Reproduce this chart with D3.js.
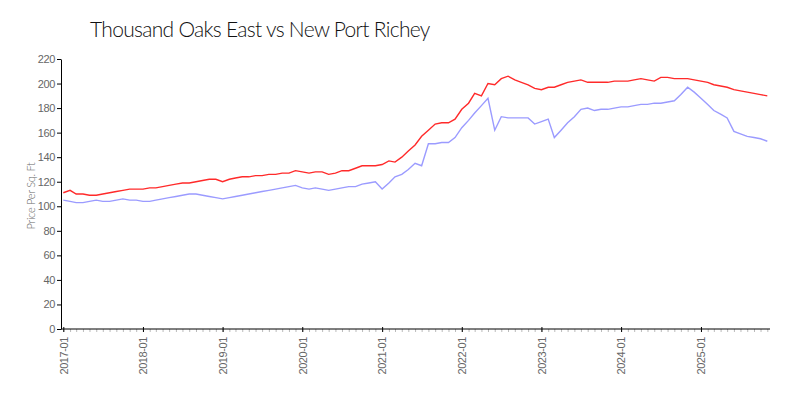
<!DOCTYPE html>
<meta charset="utf-8">
<style type="text/css">
    body { margin: 0; background: #fff; }
    svg { font-family: "Lato", "DejaVu Sans", sans-serif; }
    .title { font-size: 21px; font-weight: 300; fill: #111; letter-spacing: -0.7px; }
    .axis text { fill: #666; font-size: 11px; font-weight: 300; letter-spacing: -0.4px; }
    .axis path, .axis line { stroke: #000; }
    .minor line { stroke: #bbb; }
    .minor path { stroke: none; }
    .ylabel { font-size: 11px; fill: #666; font-weight: 300; letter-spacing: -0.3px; }
    .line { fill: none; stroke-width: 1.4; }
</style>
<body></body>
<script src="https://cdn.jsdelivr.net/npm/d3@7"></script>
<script>
    // monthly, 2017-01 .. 2025-11
    var startMonth = "2017-01", endMonth = "2025-11";
    var title = "Thousand Oaks East vs New Port Richey";
    var yLabel = "Price Per Sq. Ft";
    var yTicks = [0, 20, 40, 60, 80, 100, 120, 140, 160, 180, 200, 220];
    var tickYears = ["2017-01", "2018-01", "2019-01", "2020-01", "2021-01", "2022-01", "2023-01", "2024-01", "2025-01"];

    var thousandOaks = [
        111, 113, 110, 110, 109, 109, 110, 111, 112, 113, 114, 114,
        114, 115, 115, 116, 117, 118, 119, 119, 120, 121, 122, 122,
        120, 122, 123, 124, 124, 125, 125, 126, 126, 127, 127, 129,
        128, 127, 128, 128, 126, 127, 129, 129, 131, 133, 133, 133,
        134, 137, 136, 140, 145, 150, 157, 162, 167, 168, 168, 171,
        179, 184, 192, 190, 200, 199, 204, 206, 203, 201, 199, 196,
        195, 197, 197, 199, 201, 202, 203, 201, 201, 201, 201, 202,
        202, 202, 203, 204, 203, 202, 205, 205, 204, 204, 204, 203,
        202, 201, 199, 198, 197, 195, 194, 193, 192, 191, 190
    ];
    var newPortRichey = [
        105, 104, 103, 103, 104, 105, 104, 104, 105, 106, 105, 105,
        104, 104, 105, 106, 107, 108, 109, 110, 110, 109, 108, 107,
        106, 107, 108, 109, 110, 111, 112, 113, 114, 115, 116, 117,
        115, 114, 115, 114, 113, 114, 115, 116, 116, 118, 119, 120,
        114, 119, 124, 126, 130, 135, 133, 151, 151, 152, 152, 156,
        164, 170, 176, 182, 188, 162, 173, 172, 172, 172, 172, 167,
        169, 171, 156, 162, 168, 173, 179, 180, 178, 179, 179, 180,
        181, 181, 182, 183, 183, 184, 184, 185, 186, 191, 197, 193,
        188, 183, 178, 175, 172, 161, 159, 157, 156, 155, 153
    ];

    var parseMonth = d3.timeParse("%Y-%m");
    var months = d3.timeMonth.range(parseMonth(startMonth), d3.timeMonth.offset(parseMonth(endMonth), 1));

    var margin = {top: 59, right: 33, bottom: 71, left: 61},
        width = 800 - margin.left - margin.right,
        height = 400 - margin.top - margin.bottom;

    var x = d3.scaleTime()
        .domain([months[0], months[months.length - 1]])
        .range([2.3, 706.3]);

    var y = d3.scaleLinear()
        .domain([0, 220])
        .range([height, 0]);

    var svg = d3.select("body").append("svg")
        .attr("width", 800)
        .attr("height", 400);

    svg.append("text")
        .attr("class", "title")
        .attr("x", 90)
        .attr("y", 37)
        .text(title);

    var g = svg.append("g")
        .attr("transform", "translate(" + margin.left + "," + margin.top + ")");

    // minor month ticks
    g.append("g")
        .attr("class", "axis minor")
        .attr("transform", "translate(0," + height + ")")
        .call(d3.axisBottom(x).tickValues(months).tickSize(3).tickFormat(""));

    var xAxis = g.append("g")
        .attr("class", "axis")
        .attr("transform", "translate(0," + height + ")")
        .call(d3.axisBottom(x)
            .tickValues(tickYears.map(parseMonth))
            .tickSize(3)
            .tickSizeOuter(0)
            .tickFormat(d3.timeFormat("%Y-%m")));
    xAxis.select(".domain").attr("d", "M0,0H" + (width + 3));
    xAxis.selectAll(".tick line").attr("y1", -2).attr("y2", 3);
    xAxis.selectAll("text")
        .attr("transform", "rotate(-90)")
        .attr("x", -8)
        .attr("y", 0)
        .attr("dy", "0.35em")
        .style("text-anchor", "end");

    var yAxis = g.append("g")
        .attr("class", "axis")
        .call(d3.axisLeft(y).tickValues(yTicks).tickSize(4).tickSizeOuter(0).tickPadding(2));

    svg.append("text")
        .attr("class", "ylabel")
        .attr("transform", "translate(35,196) rotate(-90)")
        .style("text-anchor", "middle")
        .text(yLabel);

    var line = function(values) {
        return d3.line()
            .x(function(d, i) { return x(months[i]); })
            .y(function(d) { return y(d); })(values);
    };

    g.append("path")
        .attr("class", "line")
        .attr("stroke", "#9b9bff")
        .attr("d", line(newPortRichey));

    g.append("path")
        .attr("class", "line")
        .attr("stroke", "#ff2a2a")
        .attr("d", line(thousandOaks));
</script>
